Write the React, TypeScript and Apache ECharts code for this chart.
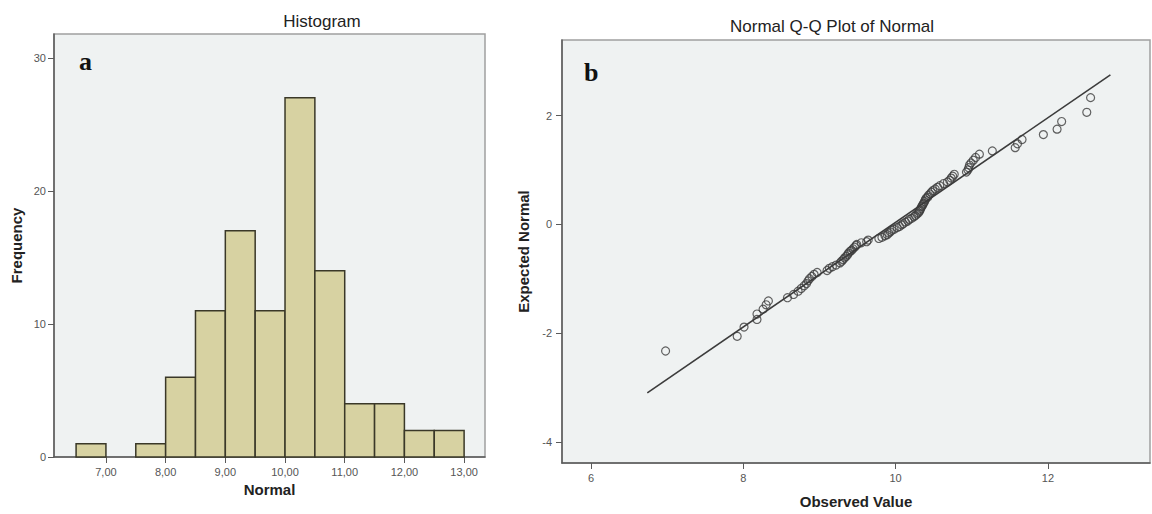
import React, { useEffect, useRef } from "react";
import * as echarts from "echarts";

// Histogram data (bin edges and frequencies)
const histBinStart = [6.5, 7.0, 7.5, 8.0, 8.5, 9.0, 9.5, 10.0, 10.5, 11.0, 11.5, 12.0, 12.5];
const histBinEnd = [7.0, 7.5, 8.0, 8.5, 9.0, 9.5, 10.0, 10.5, 11.0, 11.5, 12.0, 12.5, 13.0];
const histCounts = [1, 0, 1, 6, 11, 17, 11, 27, 14, 4, 4, 2, 2];
const histXTicks = [7, 8, 9, 10, 11, 12, 13];
const histYTicks = [0, 10, 20, 30];

// Q-Q plot data (observed value, expected normal)
const qqObserved = [
  6.98, 7.92,
  8.01, 8.18, 8.18, 8.26, 8.30, 8.33,
  8.58, 8.66, 8.72, 8.76, 8.80, 8.83, 8.85, 8.87, 8.90, 8.93, 8.97,
  9.10, 9.13, 9.17, 9.22, 9.27, 9.29, 9.31, 9.33, 9.35, 9.37, 9.38, 9.40, 9.42, 9.44, 9.46, 9.48, 9.49,
  9.55, 9.62, 9.64, 9.78, 9.82, 9.86, 9.89, 9.91, 9.93, 9.95, 9.98,
  10.02, 10.05, 10.08, 10.10, 10.13, 10.16, 10.18, 10.21, 10.24, 10.26, 10.28, 10.30, 10.31, 10.32,
  10.33, 10.34, 10.35, 10.36, 10.37, 10.38, 10.39, 10.40, 10.42, 10.43, 10.45, 10.47, 10.49,
  10.52, 10.55, 10.58, 10.63, 10.68, 10.71, 10.73, 10.75, 10.77, 10.93, 10.95, 10.96, 10.97, 10.99,
  11.02, 11.05, 11.10, 11.27,
  11.57, 11.60, 11.66, 11.94,
  12.12, 12.18,
  12.51, 12.56,
];
const qqExpected = [
  -2.33, -2.06,
  -1.89, -1.75, -1.65, -1.56, -1.48, -1.41,
  -1.35, -1.29, -1.23, -1.18, -1.13, -1.09, -1.04, -1.0, -0.96, -0.92, -0.885,
  -0.85, -0.81, -0.78, -0.75, -0.71, -0.68, -0.65, -0.62, -0.59, -0.56, -0.53, -0.5, -0.48, -0.45, -0.42, -0.39, -0.37,
  -0.34, -0.32, -0.29, -0.26, -0.24, -0.21, -0.19, -0.16, -0.14, -0.11, -0.09,
  -0.06, -0.04, -0.01, 0.01, 0.04, 0.06, 0.09, 0.11, 0.14, 0.16, 0.19, 0.21, 0.24,
  0.26, 0.29, 0.32, 0.34, 0.37, 0.39, 0.42, 0.45, 0.48, 0.5, 0.53, 0.56, 0.59, 0.62,
  0.65, 0.68, 0.71, 0.75, 0.78, 0.81, 0.85, 0.885, 0.92, 0.96, 1.0, 1.04, 1.09, 1.13,
  1.18, 1.23, 1.29, 1.35,
  1.41, 1.48, 1.56, 1.65,
  1.75, 1.89,
  2.06, 2.33,
];
const qqLineX = [6.74, 12.82];
const qqLineY = [-3.1, 2.75];
const qqXTicks = [6, 8, 10, 12];
const qqYTicks = [-4, -2, 0, 2];

const FONT = "Liberation Sans, Arial, sans-serif";
const SERIF = "Liberation Serif, Times New Roman, serif";
const PLOT_BG = "#eff2f2";
const AXIS_COLOR = "#5a5a5a";
const LABEL_COLOR = "#555";

function axisCommon(ticks: number[], fmt: (v: number) => string, margin: number) {
  return {
    axisLine: { show: true, onZero: false, lineStyle: { color: AXIS_COLOR, width: 1.5 } },
    axisTick: { show: true, customValues: ticks, length: 6, lineStyle: { color: AXIS_COLOR, width: 1 } },
    axisLabel: {
      customValues: ticks,
      formatter: (v: number) => fmt(v),
      color: LABEL_COLOR,
      fontSize: 11,
      fontFamily: FONT,
      margin,
    },
    splitLine: { show: false },
    nameLocation: "middle" as const,
    nameTextStyle: { fontFamily: FONT, fontWeight: "bold" as const, fontSize: 15, color: "#222" },
  };
}

export default function App() {
  const ref = useRef<HTMLDivElement>(null);
  useEffect(() => {
    if (!ref.current) return;
    const chart = echarts.init(ref.current, null, { renderer: "svg" });
    const histData = histBinStart.map((s, i) => [s, histBinEnd[i], histCounts[i]]);
    const qqData = qqObserved.map((x, i) => [x, qqExpected[i]]);
    const lineData = qqLineX.map((x, i) => [x, qqLineY[i]]);
    chart.setOption({
      animation: false,
      backgroundColor: "#ffffff",
      grid: [
        { left: 54, top: 34, width: 431, height: 423, show: true, backgroundColor: PLOT_BG, borderColor: "#a0a0a0", borderWidth: 1.5 },
        { left: 562, top: 40, width: 588, height: 424, show: true, backgroundColor: PLOT_BG, borderColor: "#a0a0a0", borderWidth: 1.5 },
      ],
      xAxis: [
        {
          type: "value", gridIndex: 0, min: 6.13, max: 13.35,
          name: "Normal", nameGap: 25,
          ...axisCommon(histXTicks, (v) => v.toFixed(2).replace(".", ","), 9),
        },
        {
          type: "value", gridIndex: 1, min: 5.62, max: 13.34,
          name: "Observed Value", nameGap: 31,
          ...axisCommon(qqXTicks, (v) => String(v), 9),
        },
      ],
      yAxis: [
        {
          type: "value", gridIndex: 0, min: 0, max: 31.8,
          name: "Frequency", nameGap: 30,
          ...axisCommon(histYTicks, (v) => String(v), 8),
        },
        {
          type: "value", gridIndex: 1, min: -4.39, max: 3.39,
          name: "Expected Normal", nameGap: 24,
          ...axisCommon(qqYTicks, (v) => String(v), 10),
        },
      ],
      series: [
        {
          type: "custom",
          xAxisIndex: 0,
          yAxisIndex: 0,
          data: histData,
          encode: { x: [0, 1], y: 2 },
          renderItem: (params: any, api: any) => {
            const c = api.value(2);
            if (!c) return null;
            const p0 = api.coord([api.value(0), c]);
            const p1 = api.coord([api.value(1), 0]);
            return {
              type: "rect",
              shape: { x: p0[0], y: p0[1], width: p1[0] - p0[0], height: p1[1] - p0[1] },
              style: { fill: "#d7d2a2", stroke: "#3a3828", lineWidth: 1.5 },
            };
          },
        },
        {
          type: "line",
          xAxisIndex: 1,
          yAxisIndex: 1,
          data: lineData,
          showSymbol: false,
          lineStyle: { color: "#3c3c3c", width: 1.6 },
          z: 2,
        },
        {
          type: "scatter",
          xAxisIndex: 1,
          yAxisIndex: 1,
          data: qqData,
          symbol: "circle",
          symbolSize: 8,
          itemStyle: { color: "rgba(255,255,255,0)", borderColor: "#3c3c3c", borderWidth: 1.2 },
          z: 3,
        },
      ],
      graphic: [
        { type: "text", x: 322, y: 21, style: { text: "Histogram", font: `17px ${FONT}`, fill: "#222", align: "center", verticalAlign: "middle" } },
        { type: "text", x: 832, y: 26, style: { text: "Normal Q-Q Plot of Normal", font: `17px ${FONT}`, fill: "#222", align: "center", verticalAlign: "middle" } },
        { type: "text", x: 79, y: 74, style: { text: "a", font: `bold 26px ${SERIF}`, fill: "#111", align: "left", verticalAlign: "bottom" } },
        { type: "text", x: 584, y: 85, style: { text: "b", font: `bold 26px ${SERIF}`, fill: "#111", align: "left", verticalAlign: "bottom" } },
      ],
    });
    return () => chart.dispose();
  }, []);
  return <div ref={ref} style={{ position: "absolute", left: 0, top: 0, width: 1152, height: 514 }} />;
}
